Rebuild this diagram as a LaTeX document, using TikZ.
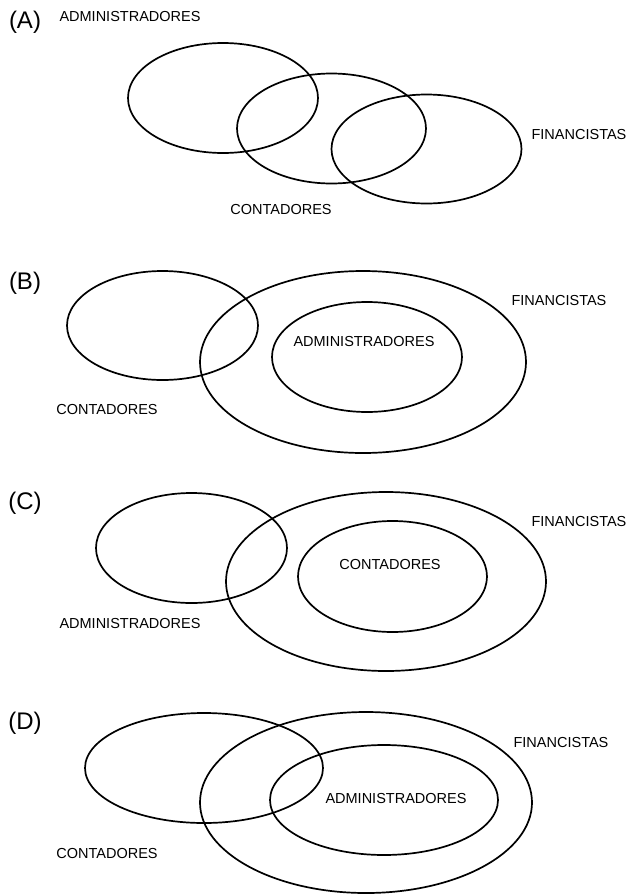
\documentclass[tikz,border=0pt]{standalone}
\usepackage{fontspec}
\setmainfont{Liberation Sans}
\usetikzlibrary{positioning}

\begin{document}
\begin{tikzpicture}[x=1pt,y=-1pt]
\tikzstyle{set} = [draw, line width=1.7pt]
\tikzstyle{lbl} = [font=\fontsize{14.5}{16}\selectfont, inner sep=0pt]
\tikzstyle{opt} = [font=\fontsize{24}{26}\selectfont, inner sep=0pt]

\useasboundingbox (0,0) rectangle (629,895);

% (A)
\node[opt] (optA) at (25,22) {(A)};
\node[lbl] (admA) at (130,17) {ADMINISTRADORES};
\node[lbl] (finA) at (579,135) {FINANCISTAS};
\node[lbl] (conA) at (281,210) {CONTADORES};
\draw[set] (223,98) ellipse (95 and 55);
\draw[set] (331.5,128.5) ellipse (94.5 and 55);
\draw[set] (426.5,149) ellipse (95 and 54.5);

% (B)
\node[opt] (optB) at (25,283) {(B)};
\node[lbl] (finB) at (559,301) {FINANCISTAS};
\node[lbl] (admB) at (364,342) {ADMINISTRADORES};
\node[lbl] (conB) at (107,410) {CONTADORES};
\draw[set] (162.5,325.5) ellipse (95.5 and 54.5);
\draw[set] (363,362) ellipse (163 and 91);
\draw[set] (367,357) ellipse (95 and 55);

% (C)
\node[opt] (optC) at (25,503) {(C)};
\node[lbl] (finC) at (579,522) {FINANCISTAS};
\node[lbl] (conC) at (390,564) {CONTADORES};
\node[lbl] (admC) at (130,623) {ADMINISTRADORES};
\draw[set] (191.5,548) ellipse (95.5 and 55);
\draw[set] (386,581.5) ellipse (160 and 89.5);
\draw[set] (392.5,576.5) ellipse (94.5 and 55.5);

% (D)
\node[opt] (optD) at (25,723) {(D)};
\node[lbl] (finD) at (561,742) {FINANCISTAS};
\node[lbl] (admD) at (396,798) {ADMINISTRADORES};
\node[lbl] (conD) at (107,853) {CONTADORES};
\draw[set] (204,768) ellipse (119 and 55);
\draw[set] (366,802.5) ellipse (166 and 90.5);
\draw[set] (384,800) ellipse (114 and 55);
\end{tikzpicture}
\end{document}
